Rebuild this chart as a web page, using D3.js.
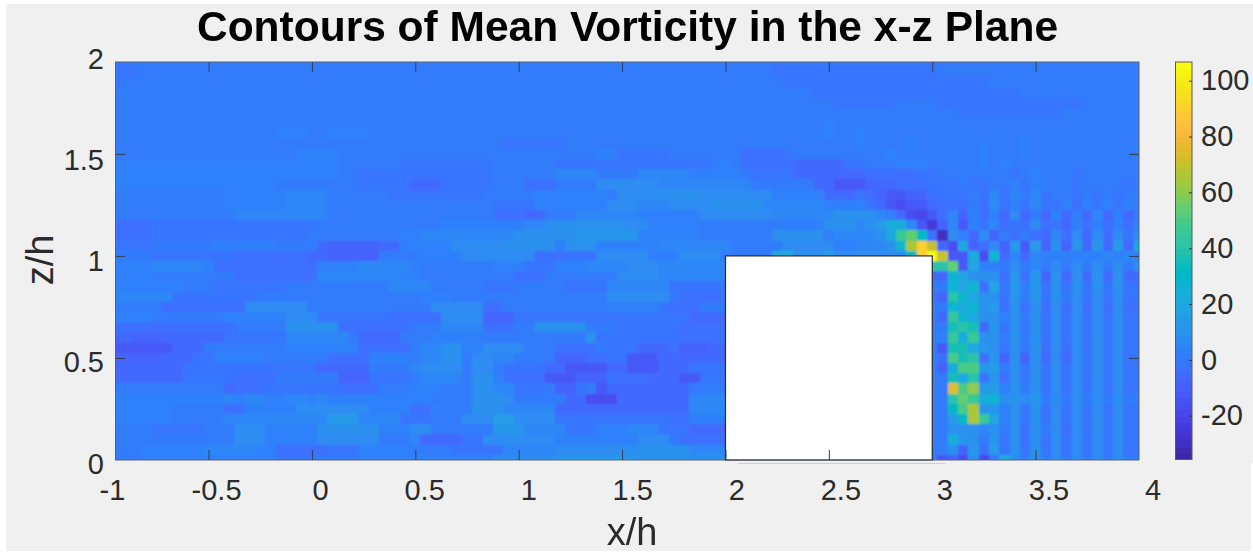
<!DOCTYPE html>
<html>
<head>
<meta charset="utf-8">
<script src="https://cdn.jsdelivr.net/npm/d3@7/dist/d3.min.js"></script>
<style>
    body { margin: 0; background: #fff; }
    svg { display: block; filter: blur(0.4px); }
    text { font-family: "Liberation Sans", Arial, sans-serif; }
</style>
</head>
<body>
<script>
// DATA

const titleText = "Contours of Mean Vorticity in the x-z Plane";
const xLabelText = "x/h";
const zLabelText = "z/h";

const xTicks = [-0.5, 0, 0.5, 1, 1.5, 2, 2.5, 3, 3.5];
const zTicks = [0.5, 1, 1.5];
const xTickLabels = [-1, -0.5, 0, 0.5, 1, 1.5, 2, 2.5, 3, 3.5, 4];
const zTickLabels = [0, 0.5, 1, 1.5, 2];
const colorTicks = [-20, 0, 20, 40, 60, 80, 100];

const xDomain = [-0.95, 4];
const zDomain = [0, 1.95];
const colorDomain = [-35.7, 106.7];
const gridStep = 0.05;

// the building, white box in data units
const boxX = [2, 3];
const boxZ = [0, 1];

// parula, 64 steps
const parula = [
    [0.2422, 0.1504, 0.6603], [0.2504, 0.1650, 0.7076], [0.2578, 0.1818, 0.7511], [0.2647, 0.1978, 0.7952],
    [0.2706, 0.2147, 0.8364], [0.2751, 0.2342, 0.8710], [0.2783, 0.2559, 0.8991], [0.2803, 0.2782, 0.9221],
    [0.2813, 0.3006, 0.9414], [0.2810, 0.3228, 0.9579], [0.2795, 0.3447, 0.9717], [0.2760, 0.3667, 0.9829],
    [0.2699, 0.3892, 0.9906], [0.2602, 0.4123, 0.9952], [0.2440, 0.4358, 0.9988], [0.2206, 0.4603, 0.9973],
    [0.1963, 0.4847, 0.9892], [0.1834, 0.5074, 0.9798], [0.1786, 0.5289, 0.9682], [0.1764, 0.5499, 0.9520],
    [0.1687, 0.5703, 0.9359], [0.1540, 0.5902, 0.9218], [0.1460, 0.6091, 0.9079], [0.1380, 0.6276, 0.8973],
    [0.1248, 0.6459, 0.8883], [0.1113, 0.6635, 0.8763], [0.0952, 0.6798, 0.8598], [0.0689, 0.6948, 0.8394],
    [0.0297, 0.7082, 0.8163], [0.0036, 0.7203, 0.7917], [0.0067, 0.7312, 0.7660], [0.0433, 0.7411, 0.7394],
    [0.0964, 0.7500, 0.7120], [0.1408, 0.7584, 0.6842], [0.1717, 0.7670, 0.6554], [0.1938, 0.7758, 0.6251],
    [0.2161, 0.7843, 0.5923], [0.2470, 0.7918, 0.5567], [0.2906, 0.7973, 0.5188], [0.3406, 0.8008, 0.4789],
    [0.3909, 0.8029, 0.4354], [0.4456, 0.8024, 0.3909], [0.5044, 0.7993, 0.3480], [0.5616, 0.7942, 0.3045],
    [0.6174, 0.7876, 0.2612], [0.6720, 0.7793, 0.2227], [0.7242, 0.7698, 0.1910], [0.7738, 0.7598, 0.1646],
    [0.8203, 0.7498, 0.1535], [0.8634, 0.7406, 0.1596], [0.9035, 0.7330, 0.1774], [0.9393, 0.7288, 0.2100],
    [0.9728, 0.7298, 0.2394], [0.9956, 0.7434, 0.2371], [0.9970, 0.7659, 0.2199], [0.9952, 0.7861, 0.1990],
    [0.9892, 0.8134, 0.1768], [0.9786, 0.8422, 0.1547], [0.9676, 0.8666, 0.1331], [0.9610, 0.8905, 0.1153],
    [0.9597, 0.9135, 0.0947], [0.9628, 0.9373, 0.0799], [0.9691, 0.9606, 0.0634], [0.9769, 0.9839, 0.0805]
];

// one letter per cell, looked up in levelValues
const levelCodes = "abcdefghijklmnopqrstuvwxyzABCDEFGHIJ";
const levelValues = [-30, -25, -20, -16, -12, -9, -6, -4, -2, 0,
    3, 5.5, 8, 10, 12, 15, 18, 21, 24, 28,
    32, 36, 40, 45, 50, 55,
    60, 65, 70, 75, 80, 85, 90, 95, 100, 105];

// vorticity, rows from z = 1.95 down to z = 0, columns from x = -0.95 to x = 4
const vorticityRows = [
    "iijjjjjjjj jjjjjjjjjj jjjjjjjjjj jjjjjjjjjj jjjjjjjjjj jjjjjjjjjj jjjjiiiiii iiiiiiiiii jjjjjjjjjj jjjjjjjjjj",
    "iiijjjjjjj jjjjjjjjjj jjjjjjjjjj jjjjjjjjjj jjjjjjjjjj jjjjjjjjjj jjjjiiiiii iiiiiiiiii jjjjjjjjjj jjjjjjjjjj",
    "ijjjjjjjjj jjjjjjjjjj jjjjjjjjjj jjjjjjjjjj jjjjjjjjjj jjjjjjjjjj jjjjjiiiii iiiiiiiiii iiiiijjjjj jjjjjjjjjj",
    "jjjjjjjjjj jjjjjjjjjj jjjjjjjjjj jjjjjjjjjj jjjjjjjjjj jjjjjjjjjj jjjjjjjjii iiiiiiiiii iiiiiiiijj jjjjjjjjjj",
    "jjjjjjjjjj jjjjjjjjjj jjjjjjjjjj jjjjjjjjjj jjjjjjjjjj jjjjjjjjjj jjjjjjjjjj iiiiiijjjj iiiiiiiiii iiiijjjjjj",
    "jjjjjjjjjj jjjjjjjjjj jjjjjjjjjj jjjjjjjjjj jjjjjjjjjj jjjjjjjjjj jjjjjjjjjj jjjjjjjjjj jjiiiiiiii iijjjjjjjj",
    "jjjjjjjjjj jjjjjjjjjj jjjjjjjjjj jjjjjjjjjj jjjjjjjjjj jjjjjjjjjj jjjjjjjjjk jjjjjjjjjj jjjjjjjjjj jjjjjjjjjj",
    "jjjjjjjjjj jjjjjjkkkj jkkkkjjjjj jjjjjjjjjj jjjjjjjjjj jjjjjjjjjj jjjjjjjjjk jjkjjjjjjj jjjjjjjjjj jjjjjjjjjj",
    "jjjjjjjjjj jjjjjjjjjj jjjjjjjjjj jjjjjjjjii iiiijjjjjj jjjjjjjjjj jjjjjjjjjj jjkjjjjkjj jjjjkjjjkj jjjjjjjjjj",
    "jjjjjjjjjj jjjjjjjjkk kkjjjjjjjj jjjjjjjjjj jjjjjjjkki iiiijjjjjj jhhhhijjjj jjjjjkjjjj jjjjkjjjkj jjjjjjjjjj",
    "kkkkkkkkkk kkkkkkkkkk kkjjjjjjii iiiiiiijjj jjjiiiiiii iiiiiiiijk jhhhhhgggg giijjjkkkj jjjjkjkjjj jjjjjjjjjj",
    "kkkkkkkkkk kkkkkkkkkk kkjjiiiiii iiiiiiijjj jjjlllljjj jlllllkkkk kjiiiigggg ggghhhhhii jjjjjjjijk jjjijjjjjj",
    "kkkkkkkkkk kkkkkkjjjj jjjjiiiiig ggiiiiijjj hhhjjjjmmm mmmlllllll lljjjjjjgg eeefgghhhi iijiijjkik kjjijjjjij",
    "jjjjjjjjjj jkkkkkklll ljjjjjjiii iiiiiijjjj jkkkkkkkjm mmmnnnnmmm mmmmkkkkkg ggihfeeffh iiijililjl ijjijijijj",
    "jjjjjjjjjj jkkkkkklll ljjjjjjjjj jjjjjjjiii ikkkkkkkmm mlllmmmmnn nnnllllllk kkkigedeeg hhhjhmikil iikhkikikj",
    "jjjjjjjjjj jjllllllll ljjjjjjjjj jjjjjjjhhh ggjjjlllll lkkkkkkmmm mmmmllllll nnnnlkgdce hlfkhkgmgj gkgkglgkgj",
    "hhhhiiiiii iiiiiiiiii jjjjjjjjjj jjkkkkkkkk llnnnnnnnn mmkkkkkjjj jjjjjkkkkn nnlnpssleb flekilhihm higkhkhkhk",
    "hhhhiiiiii iiiiiiiiij jjjjjjjjkk llllllllln nnnnnooooo okkkkkkjjj jjjjnnnnnk llllnrxzuh amkgmfjhjh glhmgmgmin",
    "iiiijjjjjj kkkkkkjjjj gfffffggkk kkkmmmmmnn nnnknnnkkk kkklllllll jjjjjmmmmm kklllntBGC gdrfhmfpep fnfogogpgs",
    "jjjjiiiiii iihhhhhhhg gfffffjjjj kkkkmmmmmm mhhhiiimmm mmkkkmmmmj jjjjrrnnnp mmmmmmmuGJ Ceesdtglgl kkkkkklklk",
    "kkkklllllk hhhhhhhhhh kkkklllllk jjjjjjjkkk iiikkkllll mmmlllllll jjjjjjjjjj jjjjjjjjjw wzeqkkjmjl jmjmjmjmjm",
    "kkkkjjjjjj jjhhhhhhhh llllllllkk jjjjjjjjjh hhjjjjjjjm mmmlllllll jjjjjjjjjj jjjjjjjjjg gtqnnnhoho fngngngngg",
    "kkkkkkkjjj iiiiiiijjj jjjjjjjlll ljjjjjiiij jjjjiiiill lllliiiiii jjjjjjjjjj jjjjjjjjjj jtqthqiojo ininininii",
    "lllllliiii iiiijjjjjj jjjjjjjjjj kkkjjjjjjj jjjjjjjjmm mmmmjhhhhh jjjjjjjjjj jjjjjjjjji fwtqnniojo injmimimii",
    "jjjjjhhhhh hhhmmmmmmj jjjjjjjjjj jmmmmmhhjj jjjjjjjjkk kkkihhhjjj jjjjjjjjjj jjjjjjjjjj jtrtnphnhn hmhmhmhmhh",
    "kkkkjjjjjj jkkkkkkmmm iiiiiiihhh hhmmmmfffi iiiiiiiiii iiiiiigggg jjjjjjjjjj jjjjjjjjjj gxtrnnknjn imimimimii",
    "hhhhhhhhhh hhjjjjjnnn nnhhhhhhhj jjllllhhhj jnnnnnjjji iiiiihhhhh jjjjjjjjjj jjjjjjjjjj jvwvgoinin imimimimii",
    "ggfffggggg giiiiiilll llljggggjj jkkkkkjjjj jjjjjjniii iiiiihhhhh jjjjjjjjjj jjjjjjjjjj kxsxnnjnjn imimimimii",
    "eeeeeegggj jjjjjjjkkk kkkkhhhhhj llnnkkmmmm jjjhhhhjii iggghfffgg jjjjjjjjjj jjjjjjjjjj evvqoninin hmhmimimii",
    "fffffgggii kkkkkjjjjj jhhhhkkkkj llnnjmmllj jjjfffhhii eeeggggggg jjjjjjjjjj jjjjjjjjjj hyvwhofnfn gmgmimimii",
    "gggggggiii iiiiiiiiii gggggjjjjl mmmmjmmjii iiggeeeegg eeegggiiii jjjjjjjjjj jjjjjjjjjj fsyyopjnin imimimimii",
    "gggggggiii iihhhhjjjj jjfffiiiij lllljnnkhh hheeefffih hhgggeeiii jjjjjjjjjj jjjjjjjjjj jvrwiohnin imimimimii",
    "jjjjjjjjjj jghhhiiiii iihhhhjjjk kkjjjnnlli iijffijegg ggggggjjjj jjjjjjjjjj jjjjjjjjjj jDyAopknjn imimimimii",
    "kkkkkkkkkk klkllkkllk lkkkkkkkkk kjjjjnnnmj jjjjggdddg ggggggllll jjjjjjjjjj jjjjjjjjjj jwzxstnnmo jmjmjmjmjj",
    "kkkkkkjjjj jhhkkkkkmm mmmmmkkkkh hkjjjnnnll lllggggggg ggggggllll jjjjjjjjjj jjjjjjjjjj juyBooknin imimimimii",
    "kkkkkkjjjj jlllllllll lpppllllii ijjjmmmppm mmmiiiiiii iiiihhkkkk jjjjjjjjjj jjjjjjjjjj jpuBxqknin imimimimii",
    "jjjjiiiiij jjmmmkkkkk nnnnnnkkkm mjjjjjjooo lllliiikkk llliiigggg jjjjjjjjjj jjjjjjjjjj jnnnlnjnhn jmhmimimii",
    "jjjjjjjjjj jjmmmkkkkk mmmmmmjjjl ggggiimmmm mmmkkkkkkk kmmmjhhhhh jjjjjjjjjj jjjjjjjjjj jsonjoinhn imimimimii",
    "jjjkkkkkkl llllkkhhhh hiiikkkkkj jjjiiiiill lllmmmmmmm nnnnnnllll jjjjjjjjjj jjjjjjjjjj jnfohpinin imimimimii",
    "jjjkkkkkkk kkkkkkiiii jjjjkkkkkk kkkkkkkmmm mmmooooooo onnnnnnnnn jjjjjjjjjj jjjjjjjjjj efdncisnjn jmjmjmjmjj"
];

// SCALES

const width = 1253;
const height = 552;

let x = d3.scaleLinear().domain(xDomain).range([115.5, 1139]);
let z = d3.scaleLinear().domain(zDomain).range([460, 62]);

// the tick labels do not sit under the tick marks in the picture, they have their own positions
let xLabelScale = d3.scaleLinear().domain([-1, 4]).range([112, 1152.5]);
let zLabelScale = d3.scaleLinear().domain([0, 2]).range([473, 68]);

let colorbar = d3.scaleLinear().domain(colorDomain).range([459.5, 62]);
let color = d3.scaleQuantize()
    .domain(colorDomain)
    .range(parula.map(c => d3.rgb(c[0] * 255, c[1] * 255, c[2] * 255).formatHex()));

// DRAW

let svg = d3.select("body").append("svg")
    .attr("width", width)
    .attr("height", height);

// figure background, screenshot leaves a thin white edge
svg.append("rect")
    .attr("x", 6).attr("y", 4)
    .attr("width", width - 6).attr("height", 547)
    .attr("fill", "#f0f0f0");
svg.append("rect")
    .attr("x", 1251).attr("y", 463)
    .attr("width", 2).attr("height", 88)
    .attr("fill", "#fff");

let defs = svg.append("defs");
defs.append("clipPath").attr("id", "plotClip")
    .append("rect")
    .attr("x", x(xDomain[0])).attr("y", z(zDomain[1]))
    .attr("width", x(xDomain[1]) - x(xDomain[0]))
    .attr("height", z(zDomain[0]) - z(zDomain[1]));
defs.append("filter").attr("id", "soften")
    .append("feGaussianBlur").attr("stdDeviation", 1);

let cells = [];
vorticityRows.forEach((row, r) => {
    row.replace(/ /g, "").split("").forEach((code, c) => {
        cells.push({
            xc: xDomain[0] + c * gridStep,
            zc: zDomain[1] - r * gridStep,
            value: levelValues[levelCodes.indexOf(code)]
        });
    });
});

svg.append("g")
    .attr("clip-path", "url(#plotClip)")
    .append("g")
    .attr("filter", "url(#soften)")
    .attr("shape-rendering", "crispEdges")
    .selectAll("rect")
    .data(cells)
    .join("rect")
    .attr("x", d => x(d.xc - gridStep / 2))
    .attr("y", d => z(d.zc + gridStep / 2))
    .attr("width", d => x(d.xc + gridStep / 2) - x(d.xc - gridStep / 2))
    .attr("height", d => z(d.zc - gridStep / 2) - z(d.zc + gridStep / 2))
    .attr("fill", d => color(d.value));

// white box
svg.append("rect")
    .attr("x", x(boxX[0]))
    .attr("y", z(boxZ[1]))
    .attr("width", x(boxX[1]) - x(boxX[0]))
    .attr("height", z(boxZ[0]) - z(boxZ[1]))
    .attr("fill", "#fff")
    .attr("stroke", "#2b2b2b")
    .attr("stroke-width", 1.2);

// faint line under the box in the picture
svg.append("line")
    .attr("x1", x(boxX[0]) + 12).attr("x2", x(boxX[1]) + 13)
    .attr("y1", 463.5).attr("y2", 463.5)
    .attr("stroke", "#cfcfcf")
    .attr("stroke-width", 1.2);

// frame and inward ticks on all four sides
svg.append("rect")
    .attr("x", x(xDomain[0])).attr("y", z(zDomain[1]))
    .attr("width", x(xDomain[1]) - x(xDomain[0]))
    .attr("height", z(zDomain[0]) - z(zDomain[1]))
    .attr("fill", "none")
    .attr("stroke", "#5a6470")
    .attr("stroke-width", 1);

let tickAxes = [
    [d3.axisBottom(x).tickValues(xTicks).tickSizeInner(-10), 0, z(zDomain[0])],
    [d3.axisTop(x).tickValues(xTicks).tickSizeInner(-10), 0, z(zDomain[1])],
    [d3.axisLeft(z).tickValues(zTicks).tickSizeInner(-10), x(xDomain[0]), 0],
    [d3.axisRight(z).tickValues(zTicks).tickSizeInner(-10), x(xDomain[1]), 0]
];
tickAxes.forEach(t => {
    let g = svg.append("g")
        .attr("transform", "translate(" + t[1] + "," + t[2] + ")")
        .call(t[0].tickSizeOuter(0).tickFormat(""));
    g.select(".domain").remove();
    g.selectAll("line").attr("stroke", "#333f4f").attr("stroke-width", 1);
});

// tick labels
let xLabels = svg.append("g")
    .attr("transform", "translate(0,499.5)")
    .call(d3.axisBottom(xLabelScale).tickValues(xTickLabels).tickSize(0).tickFormat(String));
let zLabels = svg.append("g")
    .attr("transform", "translate(104,0)")
    .call(d3.axisLeft(zLabelScale).tickValues(zTickLabels).tickSize(0).tickFormat(String));

[xLabels, zLabels].forEach(g => {
    g.select(".domain").remove();
    g.selectAll("line").remove();
    g.selectAll("text")
        .attr("x", g === zLabels ? 0 : null)
        .attr("y", 0)
        .attr("dy", 0)
        .attr("fill", "#2b2b2b")
        .style("font-size", "29px");
});

// colorbar
svg.append("g")
    .attr("shape-rendering", "crispEdges")
    .selectAll("rect")
    .data(color.range())
    .join("rect")
    .attr("x", 1175.5)
    .attr("width", 16.5)
    .attr("y", d => colorbar(color.invertExtent(d)[1]))
    .attr("height", d => colorbar(color.invertExtent(d)[0]) - colorbar(color.invertExtent(d)[1]) + 0.5)
    .attr("fill", d => d);

svg.append("rect")
    .attr("x", 1175.5).attr("y", colorbar(colorDomain[1]))
    .attr("width", 16.5)
    .attr("height", colorbar(colorDomain[0]) - colorbar(colorDomain[1]))
    .attr("fill", "none")
    .attr("stroke", "#5a5a5a")
    .attr("stroke-width", 1);

let cbAxis = svg.append("g")
    .attr("transform", "translate(1192,0)")
    .call(d3.axisRight(colorbar).tickValues(colorTicks).tickSizeInner(-3).tickSizeOuter(0).tickPadding(9).tickFormat(String));
cbAxis.select(".domain").remove();
cbAxis.selectAll("line").attr("stroke", "#333").attr("stroke-width", 1);
cbAxis.selectAll("text").attr("fill", "#2b2b2b").style("font-size", "29px");

// title and axis names
svg.append("text")
    .attr("x", 627.5)
    .attr("y", 40.5)
    .attr("text-anchor", "middle")
    .attr("fill", "#000")
    .style("font-size", "42.5px")
    .style("font-weight", "bold")
    .text(titleText);

svg.append("text")
    .attr("x", 632)
    .attr("y", 545)
    .attr("text-anchor", "middle")
    .attr("fill", "#2b2b2b")
    .style("font-size", "38px")
    .text(xLabelText);

svg.append("text")
    .attr("transform", "translate(52.5,260) rotate(-90)")
    .attr("text-anchor", "middle")
    .attr("fill", "#2b2b2b")
    .style("font-size", "38px")
    .text(zLabelText);
</script>
</body>
</html>
